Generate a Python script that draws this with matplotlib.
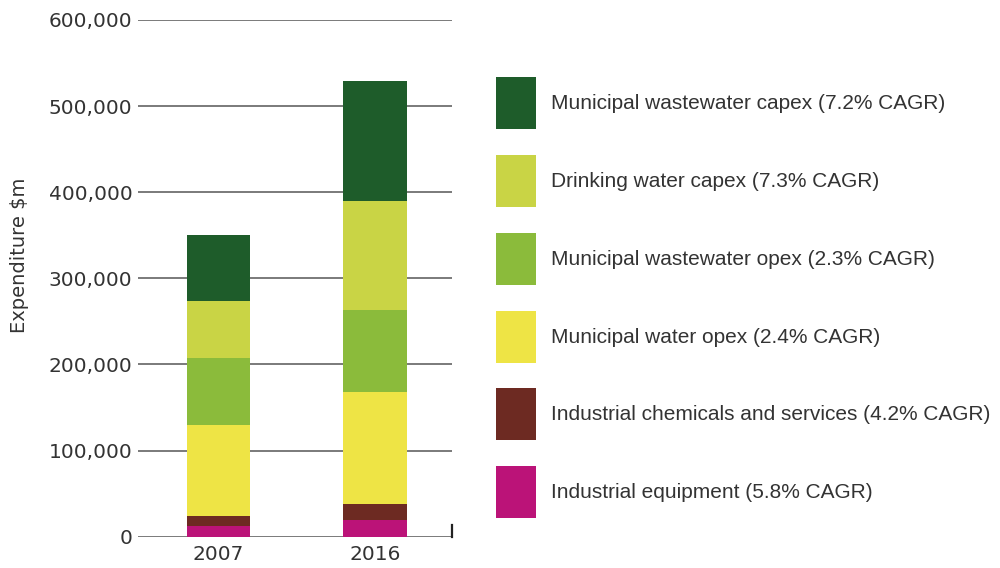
import matplotlib
matplotlib.use("Agg")
from matplotlib import pyplot as plt
from matplotlib.patches import Rectangle
from matplotlib.ticker import FuncFormatter

# expenditure by segment, $m (bottom of stack first)
years = ["2007", "2016"]
industrial_equipment = [12000, 19500]
industrial_chemicals = [12000, 18000]
municipal_water_opex = [106000, 131000]
municipal_ww_opex = [78000, 95000]
drinking_water_capex = [66000, 126000]
municipal_ww_capex = [76000, 140000]

series = [industrial_equipment, industrial_chemicals, municipal_water_opex,
          municipal_ww_opex, drinking_water_capex, municipal_ww_capex]
labels = ["Industrial equipment (5.8% CAGR)",
          "Industrial chemicals and services (4.2% CAGR)",
          "Municipal water opex (2.4% CAGR)",
          "Municipal wastewater opex (2.3% CAGR)",
          "Drinking water capex (7.3% CAGR)",
          "Municipal wastewater capex (7.2% CAGR)"]
colors = ["#bb1378", "#6d2a22", "#eee445", "#8bbb3b", "#c9d445", "#1e5c2a"]

text_color = "#333333"
grid_color = "#7a7a7a"

fig = plt.figure(figsize=(10, 5.68), dpi=100)
ax = fig.add_axes([0.138, 0.0551, 0.314, 0.9097])

xpos = list(range(len(years)))
bottom = [0] * len(years)
for vals, col in zip(series, colors):
    ax.bar(xpos, vals, bottom=bottom, width=0.404, color=col, zorder=3)
    bottom = [b + v for b, v in zip(bottom, vals)]

ax.set_xlim(-0.512, 1.491)
ax.set_ylim(0, 600000)
ax.set_yticks(range(0, 600001, 100000))
ax.yaxis.set_major_formatter(FuncFormatter(lambda v, p: f"{int(v):,}"))
ax.set_xticks(xpos)
ax.set_xticklabels(years)

ax.grid(axis="y", color=grid_color, linewidth=1.4, zorder=0)
for s in ax.spines.values():
    s.set_visible(False)
ax.tick_params(axis="both", length=0, labelsize=14.5, colors=text_color)
ax.tick_params(axis="y", pad=4)
ax.tick_params(axis="x", pad=6)

# small end mark on the base line
ax.plot([1, 1], [0, 0.022], transform=ax.transAxes, clip_on=False,
        color="#222222", linewidth=1.6, zorder=4)

fig.text(0.020, 1 - 255 / 568, "Expenditure $m", rotation=90, ha="center",
         va="center", fontsize=14, color=text_color)

handles = [Rectangle((0, 0), 1, 1, facecolor=c, edgecolor="none") for c in colors]
ax.legend(handles[::-1], labels[::-1], loc="upper left",
          bbox_to_anchor=(0.4957, 1 - 77.3 / 568), bbox_transform=fig.transFigure,
          frameon=False, borderpad=0, borderaxespad=0,
          prop={"family": "Liberation Sans", "size": 15},
          labelcolor=text_color, handlelength=1.92, handleheight=3.46,
          labelspacing=1.24, handletextpad=0.75)

fig.savefig("out.png", dpi=100, facecolor="white")
